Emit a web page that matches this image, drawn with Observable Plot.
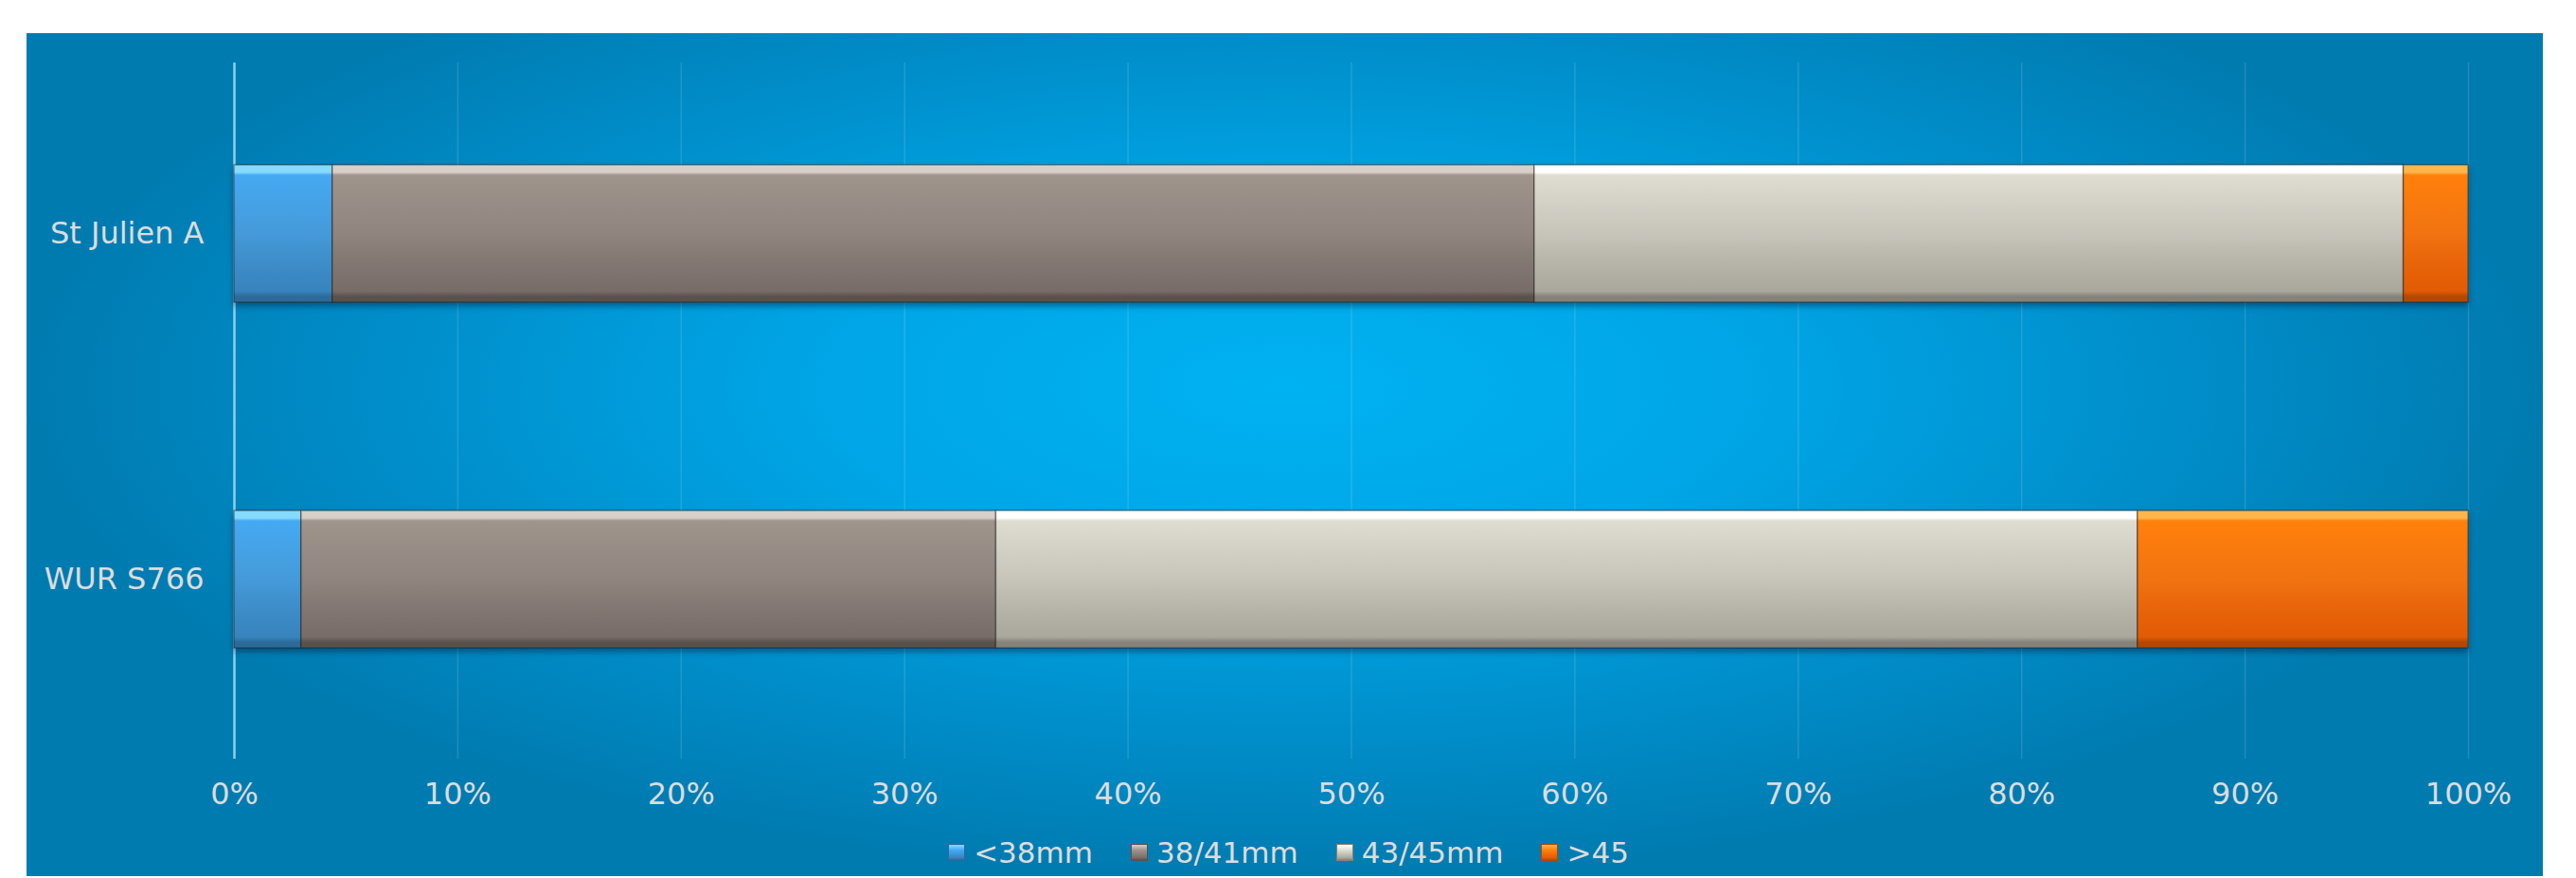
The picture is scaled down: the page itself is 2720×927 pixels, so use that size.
<!DOCTYPE html>
<html>
<head>
<meta charset="utf-8">
<script src="https://cdn.jsdelivr.net/npm/d3@7"></script>
<script src="https://cdn.jsdelivr.net/npm/@observablehq/plot@0.6"></script>
<style>
  html, body { margin: 0; padding: 0; background: #ffffff; }
  body { width: 2720px; height: 927px; position: relative; overflow: hidden; }
  #panel {
    position: absolute; left: 28px; top: 35px; width: 2657px; height: 890px;
    background: radial-gradient(ellipse farthest-side at 50% 42%, #00B2F2 0%, #00A5E6 38%, #008DC9 72%, #007BB0 100%);
    font-family: "DejaVu Sans", sans-serif;
  }
  #legend {
    display: flex; justify-content: center; align-items: center;
    height: 30px; padding-top: 24px; margin-left: 8px;
    color: #DCDCDC; font-size: 31px; line-height: 31px;
  }
  .item { display: flex; align-items: center; margin: 0 20px; }
  .sw { width: 18px; height: 18px; margin-right: 9px; box-sizing: border-box; }
</style>
</head>
<body>
<div id="panel"><div id="chart"></div><div id="legend"></div></div>
<script>
// ---- data ----
const categories = ["St Julien A", "WUR S766"];
const seriesNames = ["<38mm", "38/41mm", "43/45mm", ">45"];
const stJulienA = [4.4, 53.8, 38.9, 2.9];
const wurS766 = [3.0, 31.1, 51.1, 14.8];
const xTicks = [0, 10, 20, 30, 40, 50, 60, 70, 80, 90, 100];

// gradient styling per series: [highlight, top, bottom, edge]
const seriesColors = [
  ["#86DAFF", "#44A9F2", "#3884BE", "#2C6A99"],
  ["#D9CFC9", "#9F948C", "#786D68", "#5A504C"],
  ["#FFFFFF", "#DFDCD2", "#ABA89E", "#85827A"],
  ["#FFB54A", "#FF800A", "#E35B05", "#B44703"]
];

const rows = [];
[stJulienA, wurS766].forEach((vals, i) => {
  vals.forEach((v, j) => rows.push({category: categories[i], series: seriesNames[j], value: v}));
});

const plot = Plot.plot({
  width: 2657,
  height: 826,
  marginLeft: 219,
  marginRight: 79,
  marginTop: 31,
  marginBottom: 60,
  style: {fontFamily: "DejaVu Sans, sans-serif", fontSize: "32px", color: "#DCDCDC", background: "transparent", overflow: "visible"},
  x: {domain: [0, 100], ticks: xTicks, tickFormat: d => d + "%", tickSize: 0, tickPadding: 25, label: null},
  y: {domain: categories, tickSize: 0, tickPadding: 32, label: null, paddingInner: 0.603, paddingOuter: 0.308, align: 0.48},
  color: {domain: seriesNames, range: seriesNames.map((d, i) => `url(#grad${i})`)},
  marks: [
    Plot.ruleX(xTicks.filter(d => d > 0), {stroke: "rgba(255,255,255,0.13)", strokeWidth: 1.5}),
    Plot.ruleX([0], {stroke: "#8FD0EC", strokeWidth: 2.5}),
    Plot.barX(rows, Plot.stackX({
      x: "value", y: "category", fill: "series", order: seriesNames,
      stroke: "rgba(40,30,25,0.45)", strokeWidth: 1.5
    })),
    Plot.barX(rows, Plot.stackX({
      x: "value", y: "category", z: "series", order: seriesNames,
      fill: "url(#bevel)", insetLeft: 2, insetRight: 2
    }))
  ]
});

// gradient defs
const ns = "http://www.w3.org/2000/svg";
const svg = plot.tagName.toLowerCase() === "svg" ? plot : plot.querySelector("svg");
const defs = document.createElementNS(ns, "defs");
seriesColors.forEach((c, i) => {
  const g = document.createElementNS(ns, "linearGradient");
  g.setAttribute("id", `grad${i}`);
  g.setAttribute("x1", "0"); g.setAttribute("y1", "0");
  g.setAttribute("x2", "0"); g.setAttribute("y2", "1");
  [[0, c[0]], [0.055, c[0]], [0.075, c[1]], [0.92, c[2]], [0.96, c[3]], [1, c[3]]].forEach(([o, col]) => {
    const s = document.createElementNS(ns, "stop");
    s.setAttribute("offset", o);
    s.setAttribute("stop-color", col);
    g.appendChild(s);
  });
  defs.appendChild(g);
});
{
  const g = document.createElementNS(ns, "linearGradient");
  g.setAttribute("id", "bevel");
  g.setAttribute("x1", "0"); g.setAttribute("y1", "0");
  g.setAttribute("x2", "0"); g.setAttribute("y2", "1");
  [[0, "rgba(255,255,255,0)"], [0.5, "rgba(255,255,255,0.04)"], [1, "rgba(0,0,0,0)"]].forEach(([o, col]) => {
    const s = document.createElementNS(ns, "stop");
    s.setAttribute("offset", o);
    s.setAttribute("stop-color", col);
    g.appendChild(s);
  });
  defs.appendChild(g);
}
svg.insertBefore(defs, svg.firstChild);
svg.querySelectorAll('g[aria-label="bar"]').forEach((g, i) => {
  if (i === 0) g.style.filter = "drop-shadow(0px 4px 3px rgba(0,25,55,0.45))";
});
document.getElementById("chart").appendChild(plot);

// legend
const legend = document.getElementById("legend");
seriesNames.forEach((name, i) => {
  const c = seriesColors[i];
  const item = document.createElement("div");
  item.className = "item";
  const sw = document.createElement("span");
  sw.className = "sw";
  sw.style.background = `linear-gradient(to bottom, ${c[0]} 0%, ${c[1]} 35%, ${c[2]} 85%, ${c[3]} 100%)`;
  sw.style.border = `1px solid ${c[3]}`;
  const t = document.createElement("span");
  t.textContent = name;
  item.appendChild(sw);
  item.appendChild(t);
  legend.appendChild(item);
});
</script>
</body>
</html>
